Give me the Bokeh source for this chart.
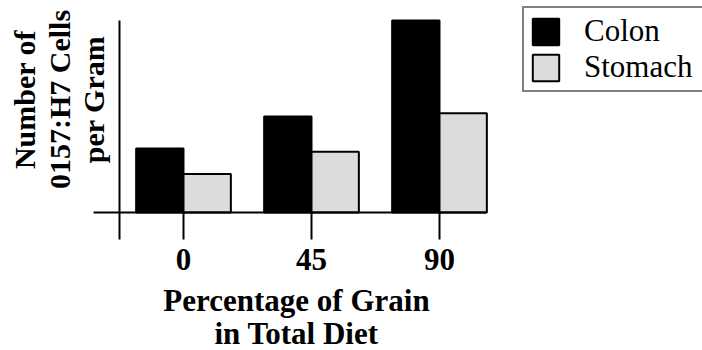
from bokeh.plotting import figure
from bokeh.models import Legend, LegendItem, Label, Range1d, FixedTicker, ColumnDataSource
from bokeh.embed import file_html
from bokeh.resources import INLINE
import math

categories = ["0", "45", "90"]
colon = [2.0, 3.0, 6.0]
stomach = [1.2, 1.9, 3.1]
series_names = ["Colon", "Stomach"]
y_axis_top = 6.0
x_title = ["Percentage of Grain", "in Total Diet"]
y_title = ["Number of", "0157:H7 Cells", "per Gram"]

FONT = "Liberation Serif"
idx = list(range(len(categories)))
bw = 0.37
y_axis_x = -0.5
y_axis_low = -27 / 32

p = figure(width=702, height=350, output_backend="svg", toolbar_location=None,
           x_range=Range1d(-1.4296875, 4.0546875), y_range=Range1d(-4.3125, 6.625),
           min_border_left=0, min_border_right=0, min_border_top=0, min_border_bottom=0)
p.outline_line_color = None
p.grid.visible = False

src = ColumnDataSource(dict(
    xc=[i - bw / 2 for i in idx], xs=[i + bw / 2 for i in idx],
    colon=colon, stomach=stomach))

r1 = p.vbar(x="xc", top="colon", bottom=0, width=bw, source=src,
            fill_color="black", line_color="black", line_width=2)
r2 = p.vbar(x="xs", top="stomach", bottom=0, width=bw, source=src,
            fill_color="#dcdcde", line_color="black", line_width=2)

# x axis drawn at y = 0
ax = p.xaxis[0]
ax.fixed_location = 0
ax.bounds = (y_axis_x, idx[-1] + bw)
ax.ticker = FixedTicker(ticks=idx)
ax.major_label_overrides = {i: c for i, c in zip(idx, categories)}
ax.axis_line_color = "black"
ax.axis_line_width = 2
ax.minor_tick_line_color = None
ax.major_tick_in = 0
ax.major_tick_out = 27
ax.major_tick_line_width = 2
ax.major_tick_line_color = "black"
ax.major_label_text_font = FONT
ax.major_label_text_font_size = "31px"
ax.major_label_text_font_style = "bold"
ax.major_label_text_color = "black"
ax.major_label_standoff = 9

# y axis drawn at x = -0.5 (no value labels in the original)
ay = p.yaxis[0]
ay.fixed_location = y_axis_x
ay.bounds = (y_axis_low, y_axis_top)
ay.ticker = FixedTicker(ticks=[0])
ay.major_label_overrides = {0: ""}
ay.axis_line_color = "black"
ay.axis_line_width = 2
ay.minor_tick_line_color = None
ay.major_tick_in = 0
ay.major_tick_out = 26
ay.major_tick_line_width = 2
ay.major_tick_line_color = "black"

for t, ys in zip(x_title, [50, 17]):
    p.add_layout(Label(x=296, y=ys, x_units="screen", y_units="screen", text=t,
                       text_align="center", text_baseline="alphabetic",
                       text_font=FONT, text_font_size="31px", text_font_style="bold",
                       text_color="black"))

for t, xs in zip(y_title, [24, 59, 93]):
    p.add_layout(Label(x=xs, y=251, x_units="screen", y_units="screen", text=t,
                       angle=math.pi / 2, text_align="center", text_baseline="alphabetic",
                       text_font=FONT, text_font_size="30px", text_font_style="bold",
                       text_color="black"))

legend = Legend(items=[LegendItem(label=series_names[0], renderers=[r1]),
                       LegendItem(label=series_names[1], renderers=[r2])],
                location=(522, 258))
legend.label_text_font = FONT
legend.label_text_font_size = "31px"
legend.label_text_color = "black"
legend.glyph_width = 33
legend.glyph_height = 33
legend.label_standoff = 22
legend.padding = 5
legend.spacing = -11
legend.margin = 0
legend.label_width = 113
legend.border_line_color = "black"
legend.border_line_width = 2
legend.background_fill_alpha = 1
p.add_layout(legend, "center")

open("out.html", "w").write(file_html(p, INLINE))
